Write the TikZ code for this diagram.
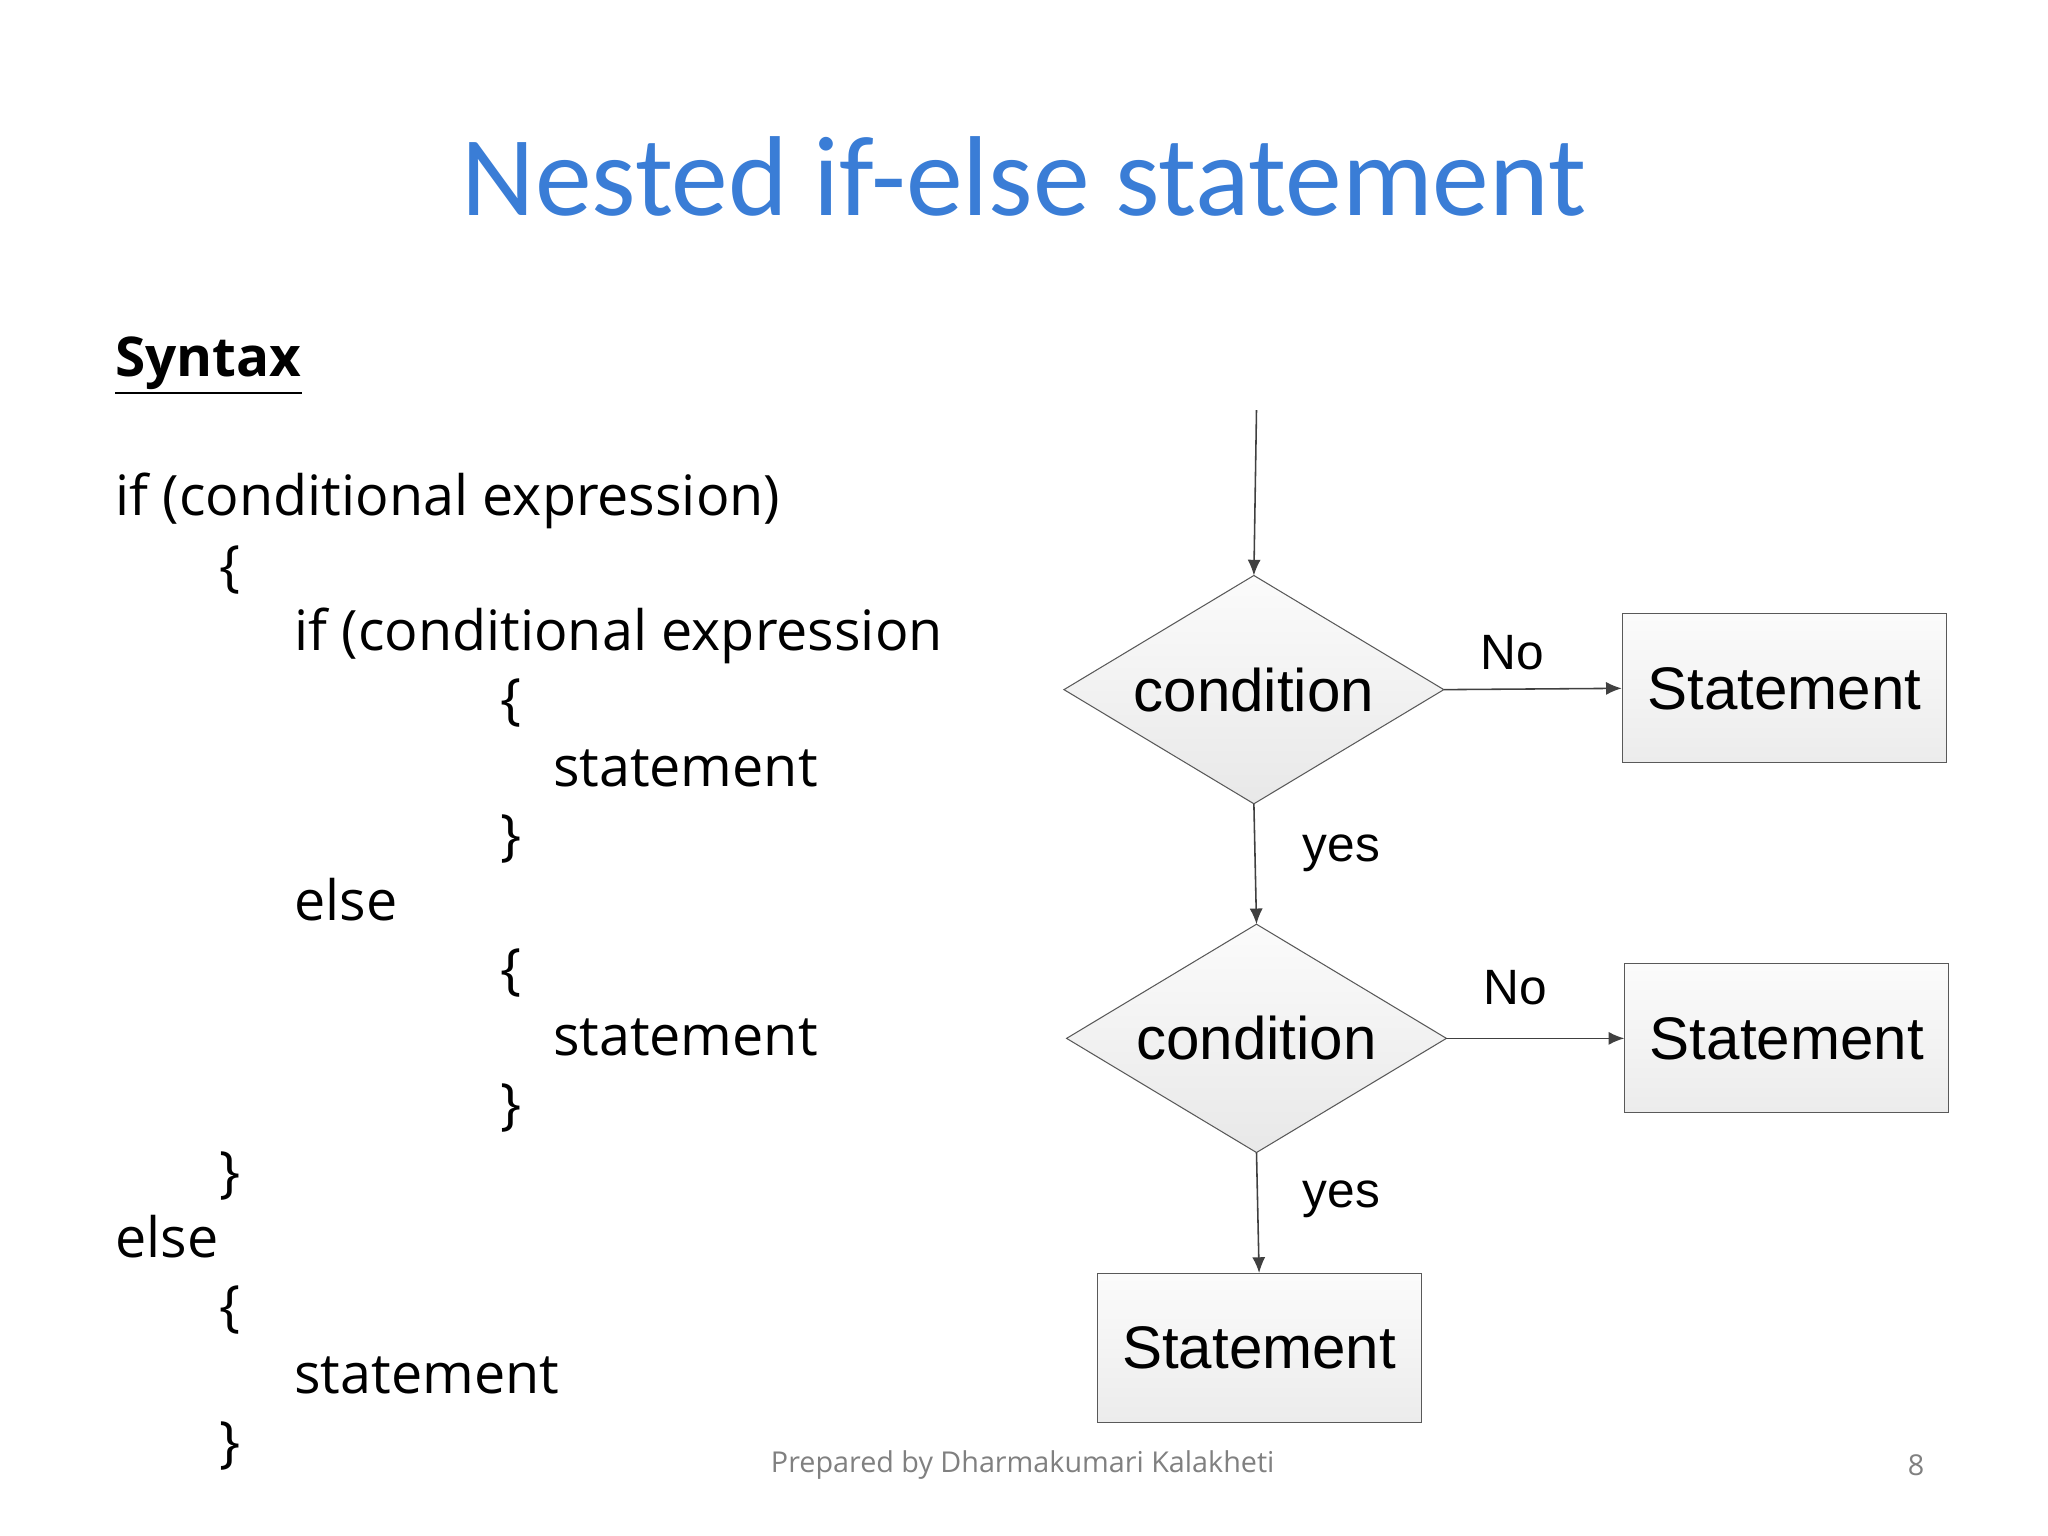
\documentclass[tikz,border=0pt]{standalone}
\usepackage{fontspec}
\setmainfont{Open Sans}
\newfontfamily\calf{Carlito}
\newfontfamily\arialf{Liberation Sans}
\usetikzlibrary{arrows.meta}
\begin{document}
\begin{tikzpicture}[x=0.5pt,y=-0.5pt,
  code/.style={anchor=base west,inner sep=0,font=\fontsize{21.3}{24}\selectfont},
  dia/.style={rectangle,minimum width=145pt,minimum height=87pt,inner sep=0,font=\arialf\fontsize{23}{26}\selectfont},
  diashape/.style={draw=gray!70!black,top color=gray!3,bottom color=gray!18},
  box/.style={rectangle,draw=gray!70!black,top color=gray!3,bottom color=gray!15,minimum width=124pt,minimum height=57pt,inner sep=0,font=\arialf\fontsize{23}{26}\selectfont},
  lbl/.style={font=\arialf\fontsize{19}{22}\selectfont,inner sep=0},
  arr/.style={-{Latex[length=6pt,width=5pt]},draw=gray!50!black,line width=0.6pt}]
\useasboundingbox (0,0) rectangle (1568,1176);
\fill[white] (0,0) rectangle (1568,1176);
\node[font=\calf\fontsize{43.5}{52}\selectfont,color={rgb,255:red,58;green,125;blue,214}] (title) at (784,135) {Nested if-else statement};
\node[code,font=\bfseries\fontsize{21}{24}\selectfont] (syn) at (88,288) {\underline{Syntax}};
\node[code] (l1) at (88,395) {if (conditional expression)};
\node[code] (l2) at (168,448) {\{};
\node[code] (l3) at (225,498) {if (conditional expression};
\node[code] (l4) at (383,550) {\{};
\node[code] (l5) at (423,602) {statement};
\node[code] (l6) at (383,654) {\}};
\node[code] (l7) at (225,705) {else};
\node[code] (l8) at (383,757) {\{};
\node[code] (l9) at (423,808) {statement};
\node[code] (l10) at (383,860) {\}};
\node[code] (l11) at (168,912) {\}};
\node[code] (l12) at (88,963) {else};
\node[code] (l13) at (168,1015) {\{};
\node[code] (l14) at (225,1067) {statement};
\node[code] (l15) at (168,1119) {\}};
\coordinate (start) at (962,314);
\node[dia] (d1) at (960,528) {};
\node[dia] (d2) at (962,795) {};
\path[diashape] (d1.west)--(d1.north)--(d1.east)--(d1.south)--cycle;
\path[diashape] (d2.west)--(d2.north)--(d2.east)--(d2.south)--cycle;
\node[dia] (t1) at (d1) {condition};
\node[dia] (t2) at (d2) {condition};
\node[box] (s1) at (1366,527) {Statement};
\node[box] (s2) at (1368,795) {Statement};
\node[box] (s3) at (964,1032) {Statement};
\draw[arr] (start) -- (d1.north);
\draw[arr] (d1.east) -- (s1.west);
\draw[arr] (d1.south) -- (d2.north);
\draw[arr] (d2.east) -- (s2.west);
\draw[arr] (d2.south) -- (s3.north);
\node[lbl] (n1) at (1158,500) {No};
\node[lbl] (n2) at (1160,756) {No};
\node[lbl] (y1) at (1027,653) {yes};
\node[lbl] (y2) at (1027,918) {yes};
\node[font=\fontsize{11}{13}\selectfont,text=gray] (foot) at (783,1122) {Prepared by Dharmakumari Kalakheti};
\node[font=\fontsize{11}{13}\selectfont,text=gray] (pg) at (1467,1122) {8};
\end{tikzpicture}
\end{document}
